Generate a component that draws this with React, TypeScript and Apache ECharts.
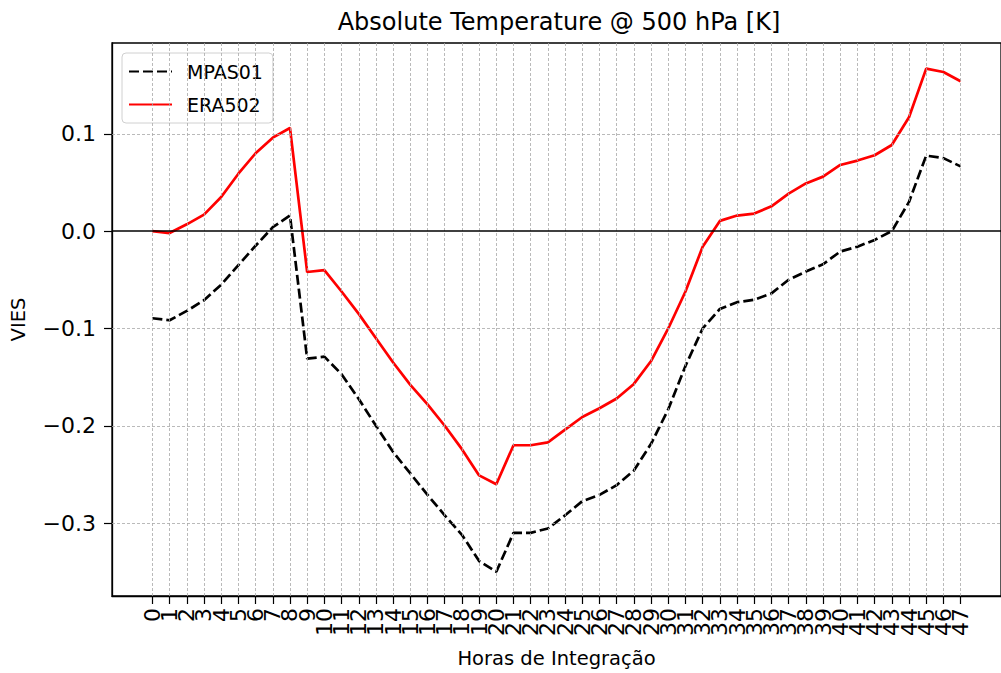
import React, { useEffect, useRef } from "react";
import * as echarts from "echarts";

const hours: number[] = Array.from({ length: 48 }, (_, i) => i);
const yTicks: number[] = [-0.3, -0.2, -0.1, 0.0, 0.1];

const mpas01: number[] = [
  -0.0895, -0.0916, -0.082, -0.071, -0.055, -0.035, -0.015, 0.004, 0.016, -0.131,
  -0.129, -0.147, -0.1725, -0.2, -0.227, -0.249, -0.271, -0.292, -0.312, -0.339,
  -0.35, -0.31, -0.31, -0.3055, -0.292, -0.2775, -0.271, -0.261, -0.246, -0.2185,
  -0.183, -0.1385, -0.1, -0.08, -0.073, -0.0705, -0.064, -0.05, -0.0415, -0.034,
  -0.021, -0.016, -0.009, 0.0, 0.03, 0.0776, 0.075, 0.0665,
];

const era502: number[] = [
  0.0, -0.002, 0.007, 0.017, 0.035, 0.059, 0.08, 0.096, 0.106, -0.042,
  -0.04, -0.062, -0.085, -0.11, -0.135, -0.158, -0.178, -0.2, -0.224, -0.251,
  -0.26, -0.22, -0.22, -0.217, -0.204, -0.191, -0.182, -0.172, -0.157, -0.1335,
  -0.1, -0.062, -0.016, 0.0105, 0.016, 0.018, 0.0255, 0.0385, 0.049, 0.056,
  0.068, 0.0725, 0.078, 0.0885, 0.117, 0.167, 0.1635, 0.154,
];

const FONT = "DejaVu Sans";
const X_MIN = -2.35;
const X_MAX = 49.35;

const fmtY = (v: number) => {
  if (Math.abs(v) < 1e-9) return "0.0";
  return (v < 0 ? "\u2212" : "") + Math.abs(v).toFixed(1);
};

export default function App() {
  const ref = useRef<HTMLDivElement>(null);
  useEffect(() => {
    if (!ref.current) return;
    const chart = echarts.init(ref.current, undefined, { renderer: "svg" });
    const gridStyle = { color: "#a8a8a8", type: [3, 2] as number[], width: 0.8 };
    const evenHours = hours.filter((h) => h % 2 === 0);
    const oddHours = hours.filter((h) => h % 2 === 1);
    const xLabelBase = {
      interval: 0,
      rotate: 90,
      margin: 12,
      showMinLabel: true,
      showMaxLabel: true,
      hideOverlap: false,
      fontFamily: FONT,
      fontSize: 22,
      color: "#000",
      formatter: (v: number) => String(Math.round(v)),
    };
    chart.setOption({
      animation: false,
      backgroundColor: "#fff",
      textStyle: { fontFamily: FONT },
      graphic: [
        {
          type: "text",
          x: 559,
          y: 10,
          style: {
            text: "Absolute Temperature @ 500 hPa [K]",
            font: `24px "${FONT}"`,
            fill: "#000",
            textAlign: "center",
            textVerticalAlign: "top",
          },
        },
      ],
      grid: {
        left: 111,
        right: -6,
        top: 43,
        bottom: 74,
        show: true,
        borderColor: "#000",
        borderWidth: 1.3,
        backgroundColor: "transparent",
      },
      legend: {
        orient: "vertical",
        left: 122,
        top: 53,
        padding: [9, 10, 9, 6],
        itemWidth: 43,
        itemHeight: 14,
        itemGap: 14,
        borderColor: "#d0d0d0",
        borderWidth: 1,
        borderRadius: 4,
        backgroundColor: "rgba(255,255,255,0.8)",
        itemStyle: { opacity: 0 },
        textStyle: { fontFamily: FONT, fontSize: 19, color: "#000", padding: [0, 0, 0, 10] },
        data: ["MPAS01", "ERA502"],
      },
      xAxis: [
        {
          type: "value",
          min: X_MIN,
          max: X_MAX,
          position: "bottom",
          name: "Horas de Integração",
          nameLocation: "middle",
          nameGap: 52,
          nameTextStyle: { fontFamily: FONT, fontSize: 19.5, color: "#000" },
          axisLine: { show: true, onZero: false, lineStyle: { color: "#000", width: 1.3 } },
          axisTick: {
            show: true,
            length: 8,
            inside: false,
            customValues: hours,
            lineStyle: { color: "#000", width: 1.2 },
          },
          axisLabel: { ...xLabelBase, customValues: evenHours },
          splitLine: { show: false },
        },
        {
          type: "value",
          min: X_MIN,
          max: X_MAX,
          position: "bottom",
          offset: 0,
          axisLine: { show: false, onZero: false },
          axisTick: { show: false },
          axisLabel: { ...xLabelBase, customValues: oddHours },
          splitLine: { show: false },
        },
      ],
      yAxis: {
        type: "value",
        min: -0.3749,
        max: 0.1933,
        name: "VIES",
        nameLocation: "middle",
        nameGap: 84,
        nameTextStyle: { fontFamily: FONT, fontSize: 19.5, color: "#000" },
        axisLine: { show: true, onZero: false, lineStyle: { color: "#000", width: 1.3 } },
        axisTick: {
          show: true,
          length: 8,
          customValues: yTicks,
          lineStyle: { color: "#000", width: 1.2 },
        },
        axisLabel: {
          customValues: yTicks,
          interval: 0,
          margin: 16,
          showMinLabel: true,
          showMaxLabel: true,
          fontFamily: FONT,
          fontSize: 22,
          color: "#000",
          formatter: (v: number) => fmtY(v),
        },
        splitLine: { show: false },
      },
      series: [
        {
          name: "grid",
          type: "line",
          data: [],
          silent: true,
          z: 1,
          markLine: {
            silent: true,
            symbol: "none",
            label: { show: false },
            lineStyle: gridStyle,
            data: [
              ...hours.map((h) => ({ xAxis: h })),
              ...yTicks.filter((t) => Math.abs(t) > 1e-9).map((t) => ({ yAxis: t })),
            ],
          },
        },
        {
          name: "MPAS01",
          type: "line",
          data: hours.map((h, i) => [h, mpas01[i]]),
          symbol: "none",
          lineStyle: { color: "#000", width: 2.7, type: [10, 4] },
          itemStyle: { color: "#000" },
          z: 3,
          markLine: {
            silent: true,
            symbol: "none",
            label: { show: false },
            lineStyle: { color: "#000", type: "solid", width: 1.6 },
            data: [{ yAxis: 0 }],
          },
        },
        {
          name: "ERA502",
          type: "line",
          data: hours.map((h, i) => [h, era502[i]]),
          symbol: "none",
          lineStyle: { color: "#ff0000", width: 2.7 },
          itemStyle: { color: "#ff0000" },
          z: 4,
        },
      ],
    });
    return () => chart.dispose();
  }, []);
  return (
    <div
      ref={ref}
      style={{ position: "fixed", left: 0, top: 0, width: 1001, height: 673, background: "#fff" }}
    />
  );
}
